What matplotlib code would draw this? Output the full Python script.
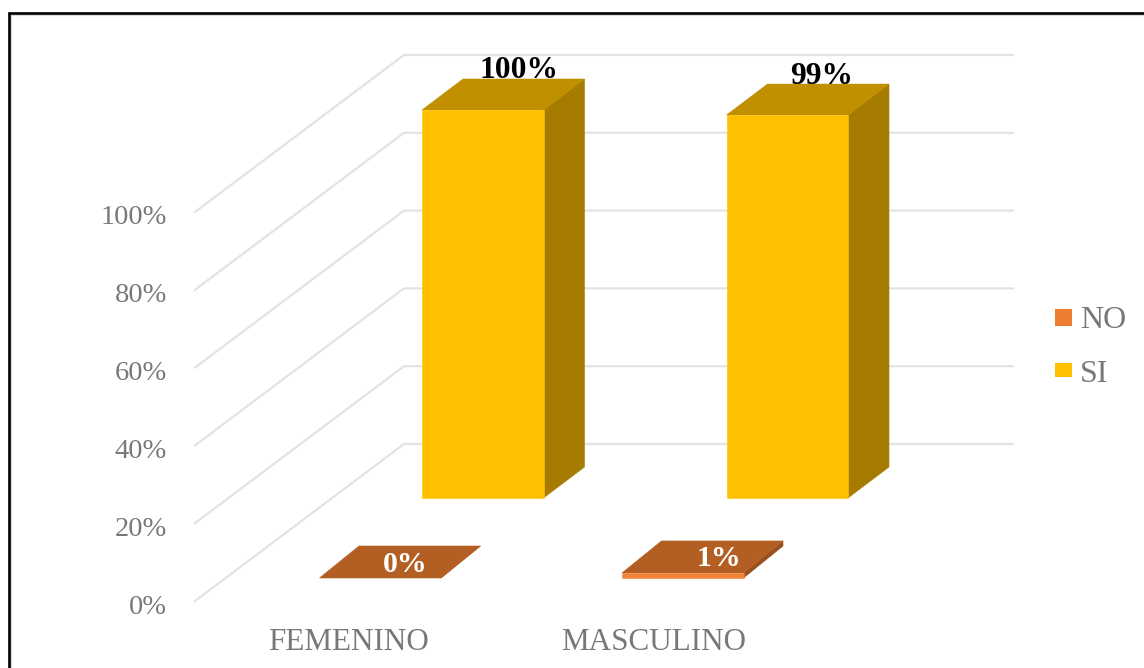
import matplotlib
matplotlib.use("Agg")
import matplotlib.pyplot as plt
from matplotlib.patches import Polygon, Rectangle

categories = ["FEMENINO", "MASCULINO"]
no_values = [0.0, 1.3]
si_values = [100.0, 98.7]
axis_ticks = [0, 20, 40, 60, 80, 100]
series_names = ["NO", "SI"]

PX_PER_PCT = 3.89
BAR_PX_PER_PCT = 3.88
CAT_STEP = 304.5
BAR_W = 121.5
FONT = "Liberation Serif"
GREY = "#787878"
GRID = "#E3E3E3"

plt.rcParams["font.family"] = FONT
fig = plt.figure(figsize=(11.44, 6.68), dpi=100)
ax = fig.add_axes([0, 0, 1, 1])
ax.set_xlim(0, 1144)
ax.set_ylim(668, 0)
ax.axis("off")

# Frame
ax.plot([11, 11], [16, 668], color="#D9D9D9", lw=1.6, zorder=1, solid_capstyle="butt")
ax.plot([11, 1144], [15, 15], color="#D9D9D9", lw=1.6, zorder=1, solid_capstyle="butt")
ax.plot([9, 9], [12, 668], color="black", lw=1.9, zorder=2, solid_capstyle="butt")
ax.plot([8, 1144], [13, 13], color="black", lw=1.9, zorder=2, solid_capstyle="butt")

# Walls: gridlines and tick labels
FRONT_X, FRONT_Y0 = 195, 601
BACK_X, BACK_Y0, RIGHT_X = 404, 444, 1013
for t in axis_ticks:
    yf = FRONT_Y0 - t * PX_PER_PCT
    yb = BACK_Y0 - t * PX_PER_PCT
    ax.plot([FRONT_X, BACK_X, RIGHT_X], [yf, yb, yb], color=GRID, lw=1.6,
            solid_joinstyle="miter", zorder=3)
    ax.text(167, yf + 6, f"{t}%", ha="right", va="center", fontsize=20.5, color=GREY, zorder=4)


def box(x, y, h, dx, dy, front, top, side, z):
    """Oblique box whose front face has lower-left corner (x, y) and height h."""
    w = BAR_W
    ax.add_patch(Polygon([(x + w, y), (x + w + dx, y + dy), (x + w + dx, y + dy - h), (x + w, y - h)],
                         closed=True, fc=side, ec=side, lw=0.4, zorder=z))
    ax.add_patch(Polygon([(x, y - h), (x + dx, y + dy - h), (x + w + dx, y + dy - h), (x + w, y - h)],
                         closed=True, fc=top, ec=top, lw=0.4, zorder=z))
    if h > 0:
        ax.add_patch(Rectangle((x, y - h), w, h, fc=front, ec=front, lw=0.4, zorder=z + 0.1))


# SI bars (rear row)
for i, v in enumerate(si_values):
    x = 422 + i * CAT_STEP
    h = v * BAR_PX_PER_PCT
    box(x, 498, h, 41, -31, "#FFC000", "#C09000", "#A67C00", 5)
    ax.text(x + 97 - i * 1.5, 498 - h - 31 - 8, f"{v:.0f}%", ha="center", va="center",
            fontsize=22.7, fontweight="bold", color="black", zorder=7)

# NO bars (front row)
for i, v in enumerate(no_values):
    x = 319.5 + i * (CAT_STEP - 2)
    h = v * BAR_PX_PER_PCT
    box(x, 578, h, 39.5, -32, "#F0833A", "#B35E22", "#99501C", 8)
    ax.text(x + 85.5 + i * 11, 578 - h - 14, f"{v:.0f}%", ha="center", va="center",
            fontsize=21.5, fontweight="bold", color="white", zorder=9)

# Category labels
for cx, c in zip([348.5, 653.5], categories):
    ax.text(cx, 642, c, ha="center", va="center", fontsize=22.4, color=GREY, zorder=4)

# Legend
for (y0, size_h), name, col, ty in zip([(309, 17), (363, 14)], series_names, ["#ED7D31", "#FFC000"], [320, 374]):
    ax.add_patch(Rectangle((1055, y0), 17, size_h, fc=col, ec="none", zorder=4))
    ax.text(1080, ty, name, ha="left", va="center", fontsize=23, color=GREY, zorder=4)

fig.savefig("out.png", dpi=100)
